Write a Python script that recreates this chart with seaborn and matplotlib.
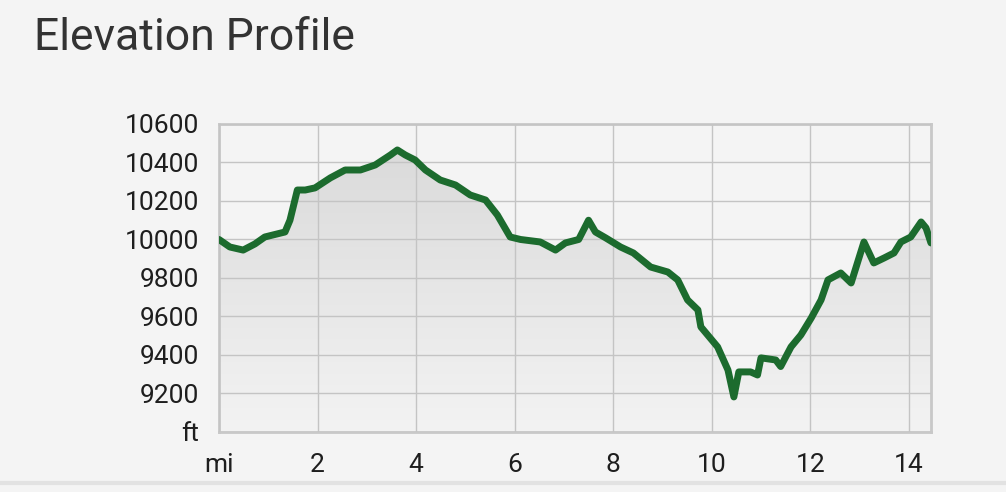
import matplotlib
matplotlib.use("Agg")
import matplotlib.pyplot as plt
import seaborn as sns
import numpy as np
import pandas as pd
from matplotlib.colors import LinearSegmentedColormap

# distance along the trail (mi) and elevation (ft)
miles = [0.00, 0.22, 0.49, 0.73, 0.93, 1.34, 1.44, 1.59, 1.75, 1.95, 2.26, 2.56,
         2.87, 3.17, 3.48, 3.62, 3.78, 3.98, 4.19, 4.49, 4.80, 5.10, 5.41, 5.65,
         5.91, 6.12, 6.52, 6.83, 7.03, 7.30, 7.50, 7.64, 7.85, 8.15, 8.41, 8.76,
         9.11, 9.31, 9.51, 9.72, 9.78, 10.12, 10.33, 10.45, 10.55, 10.79, 10.93,
         11.00, 11.30, 11.40, 11.61, 11.81, 12.02, 12.22, 12.36, 12.62, 12.83,
         13.09, 13.29, 13.50, 13.70, 13.84, 14.04, 14.25, 14.35, 14.45]
elevation = [10000, 9961, 9945, 9977, 10013, 10039, 10100, 10257, 10257, 10268,
             10320, 10361, 10361, 10387, 10439, 10465, 10439, 10413, 10361, 10309,
             10283, 10231, 10205, 10127, 10013, 10000, 9987, 9945, 9982, 10000,
             10100, 10039, 10008, 9961, 9930, 9857, 9831, 9790, 9686, 9634, 9546,
             9442, 9322, 9182, 9312, 9312, 9296, 9385, 9374, 9340, 9442, 9504,
             9592, 9686, 9790, 9826, 9774, 9987, 9878, 9904, 9930, 9987, 10013,
             10091, 10060, 9982]

x_ticks = [0, 2, 4, 6, 8, 10, 12, 14]
x_labels = ["mi", "2", "4", "6", "8", "10", "12", "14"]
y_ticks = [9000, 9200, 9400, 9600, 9800, 10000, 10200, 10400, 10600]
y_labels = ["ft", "9200", "9400", "9600", "9800", "10000", "10200", "10400", "10600"]

df = pd.DataFrame({"mi": miles, "ft": elevation})

sns.set_style("white")
plt.rcParams["font.family"] = ["Roboto", "DejaVu Sans"]

bg = "#f4f4f4"
fig = plt.figure(figsize=(10.06, 4.92), dpi=100, facecolor=bg)
ax = fig.add_axes([0.2177, 0.1220, 0.7077, 0.6260])
ax.set_facecolor(bg)

# grey gradient under the profile
poly = ax.fill_between(df["mi"], df["ft"], 9000, facecolor="none", edgecolor="none")
cmap = LinearSegmentedColormap.from_list("fade", ["#dadada", "#f3f3f3"])
grad = np.linspace(0, 1, 256).reshape(-1, 1)
im = ax.imshow(grad, cmap=cmap, aspect="auto", extent=[0, 14.45, 9000, 10500],
               origin="upper", zorder=1)
im.set_clip_path(poly.get_paths()[0], transform=ax.transData)

sns.lineplot(data=df, x="mi", y="ft", ax=ax, color="#1c6b2e", linewidth=5,
             zorder=3)

ax.set_xlim(0, 14.45)
ax.set_ylim(9000, 10600)
ax.set_xticks(x_ticks)
ax.set_xticklabels(x_labels)
ax.set_yticks(y_ticks)
ax.set_yticklabels(y_labels)
ax.set_xlabel("")
ax.set_ylabel("")
ax.tick_params(axis="both", length=0, labelsize=19, colors="#1e1e1e")
ax.tick_params(axis="y", pad=14)
ax.tick_params(axis="x", pad=15)
ax.set_axisbelow(False)
ax.grid(True, color="#c4c4c4", linewidth=1.0, zorder=2)
for s in ax.spines.values():
    s.set_color("#c8c8c8")
    s.set_linewidth(2)
    s.set_visible(True)

fig.text(0.034, 0.898, "Elevation Profile", fontsize=32, color="#333333",
         ha="left", va="baseline")

# thin divider at the bottom of the card
fig.add_artist(plt.Line2D([0, 1], [0.018, 0.018], color="#e2e2e2", linewidth=3,
                          transform=fig.transFigure))

plt.savefig("out.png", dpi=100, facecolor=bg)
plt.close()
